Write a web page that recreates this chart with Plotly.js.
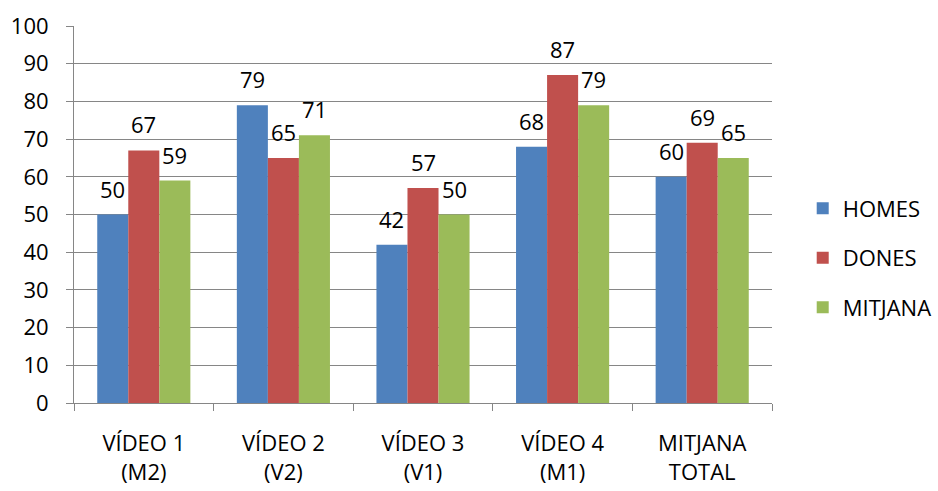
<!DOCTYPE html>
<html>
<head>
<meta charset="utf-8">
<script src="https://cdn.plot.ly/plotly-3.0.1.min.js"></script>
<style>html,body{margin:0;padding:0;background:#fff;}#chart{width:938px;height:491px;}</style>
</head>
<body>
<div id="chart"></div>
<script>
const categories = ["VÍDEO 1<br>(M2)", "VÍDEO 2<br>(V2)", "VÍDEO 3<br>(V1)", "VÍDEO 4<br>(M1)", "MITJANA<br>TOTAL"];
const homes = [50, 79, 42, 68, 60];
const dones = [67, 65, 57, 87, 69];
const mitjana = [59, 71, 50, 79, 65];
const seriesNames = ["HOMES", "DONES", "MITJANA"];
const colors = ["#4F81BD", "#C0504D", "#9BBB59"];
const FONT = "Open Sans, Lato, sans-serif";

const W = 938, H = 491;
const margin = {l: 74, r: 166, t: 26, b: 88, autoexpand: false};
const bargap = 0.333;
const plotW = W - margin.l - margin.r;
const barW = plotW / categories.length * (1 - bargap) / 3;

const values = [homes, dones, mitjana];
const traces = values.map((v, i) => ({
  type: "bar",
  name: seriesNames[i],
  x: categories,
  y: v,
  marker: {color: colors[i], line: {width: 0}},
  legendgroup: "g" + i,
  hoverinfo: "x+y+name"
}));

const annotations = [];
values.forEach((v, i) => {
  v.forEach((val, j) => {
    annotations.push({
      x: categories[j], y: val, xref: "x", yref: "y",
      text: String(val), showarrow: false,
      xanchor: "center", yanchor: "bottom",
      xshift: (i - 1) * barW, yshift: 9,
      font: {family: FONT, size: 22, color: "#000"}
    });
  });
});

const layout = {
  width: W, height: H,
  margin: margin,
  paper_bgcolor: "#fff", plot_bgcolor: "#fff",
  barmode: "group",
  bargap: bargap, bargroupgap: 0,
  font: {family: FONT, size: 22, color: "#000"},
  xaxis: {
    type: "category",
    showline: true, linecolor: "#868686", linewidth: 1,
    showgrid: false,
    tickson: "boundaries",
    ticks: "outside", ticklen: 7, tickcolor: "#868686",
    tickfont: {family: FONT, size: 22, color: "#000"},
    ticklabelstandoff: 21,
    automargin: false
  },
  yaxis: {
    range: [0, 100], dtick: 10,
    showline: true, linecolor: "#868686", linewidth: 1,
    showgrid: true, gridcolor: "#868686", gridwidth: 1,
    zeroline: false,
    ticks: "outside", ticklen: 7, tickcolor: "#868686",
    tickfont: {family: FONT, size: 22, color: "#000"},
    ticklabelstandoff: 13,
    automargin: false
  },
  annotations: annotations,
  legend: {
    x: 1.044, xanchor: "left", y: 0.385, yanchor: "middle",
    font: {family: FONT, size: 22, color: "#000"},
    traceorder: "grouped", tracegroupgap: 18,
    bgcolor: "rgba(0,0,0,0)"
  },
  showlegend: true
};

Plotly.newPlot("chart", traces, layout, {displayModeBar: false, staticPlot: true});
</script>
</body>
</html>
